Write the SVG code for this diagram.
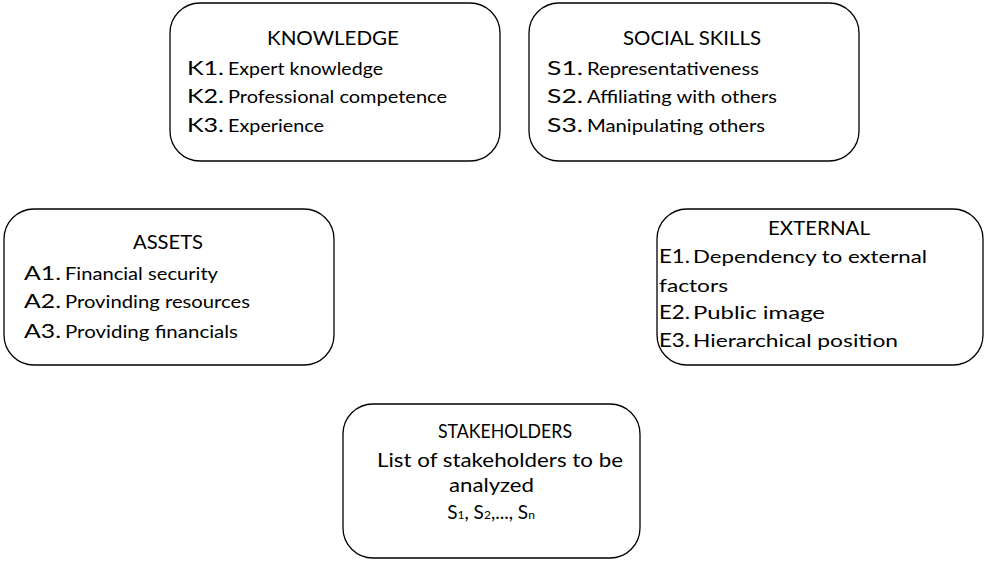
<svg xmlns="http://www.w3.org/2000/svg" width="985" height="562" viewBox="0 0 985 562">
<style>
.box{fill:#fff;stroke:#000;stroke-width:1.3}
text{font-family:Lato,"Liberation Sans",Arial,sans-serif;fill:#000}
.t{font-size:19px}
.l{font-size:19px}
.i{font-size:17.5px}
</style>
<rect width="985" height="562" fill="#fff"/>
<g id="connectors"></g>
<g id="knowledge">
<rect class="box" x="170" y="3" width="330" height="158" rx="30"/>
<text class="t" x="267" y="45" textLength="132" lengthAdjust="spacingAndGlyphs">KNOWLEDGE</text>
<text class="l" x="187" y="75" textLength="37" lengthAdjust="spacingAndGlyphs">K1.</text>
<text class="i" x="228" y="75" textLength="155" lengthAdjust="spacingAndGlyphs">Expert knowledge</text>
<text class="l" x="187" y="103" textLength="37" lengthAdjust="spacingAndGlyphs">K2.</text>
<text class="i" x="228" y="103" textLength="219" lengthAdjust="spacingAndGlyphs">Professional competence</text>
<text class="l" x="187" y="132" textLength="37" lengthAdjust="spacingAndGlyphs">K3.</text>
<text class="i" x="228" y="132" textLength="96" lengthAdjust="spacingAndGlyphs">Experience</text>
</g>
<g id="social">
<rect class="box" x="529" y="3" width="330" height="158" rx="30"/>
<text class="t" x="623" y="45" textLength="138" lengthAdjust="spacingAndGlyphs">SOCIAL SKILLS</text>
<text class="l" x="547" y="75" textLength="36" lengthAdjust="spacingAndGlyphs">S1.</text>
<text class="i" x="587" y="75" textLength="172" lengthAdjust="spacingAndGlyphs">Representativeness</text>
<text class="l" x="547" y="103" textLength="36" lengthAdjust="spacingAndGlyphs">S2.</text>
<text class="i" x="587" y="103" textLength="190" lengthAdjust="spacingAndGlyphs">Affiliating with others</text>
<text class="l" x="547" y="132" textLength="36" lengthAdjust="spacingAndGlyphs">S3.</text>
<text class="i" x="587" y="132" textLength="178" lengthAdjust="spacingAndGlyphs">Manipulating others</text>
</g>
<g id="assets">
<rect class="box" x="4" y="209" width="330" height="156" rx="30"/>
<text class="t" x="133" y="249" textLength="70" lengthAdjust="spacingAndGlyphs">ASSETS</text>
<text class="l" x="24" y="280" textLength="37" lengthAdjust="spacingAndGlyphs">A1.</text>
<text class="i" x="65" y="280" textLength="153" lengthAdjust="spacingAndGlyphs">Financial security</text>
<text class="l" x="24" y="308" textLength="37" lengthAdjust="spacingAndGlyphs">A2.</text>
<text class="i" x="65" y="308" textLength="185" lengthAdjust="spacingAndGlyphs">Provinding resources</text>
<text class="l" x="24" y="338" textLength="37" lengthAdjust="spacingAndGlyphs">A3.</text>
<text class="i" x="65" y="338" textLength="173" lengthAdjust="spacingAndGlyphs">Providing financials</text>
</g>
<g id="external">
<rect class="box" x="657" y="209" width="326" height="156" rx="30"/>
<text class="t" x="768" y="235" textLength="102" lengthAdjust="spacingAndGlyphs">EXTERNAL</text>
<text class="l" x="659" y="263" textLength="31" lengthAdjust="spacingAndGlyphs">E1.</text>
<text class="i" x="693" y="263" textLength="234" lengthAdjust="spacingAndGlyphs">Dependency to external</text>
<text class="i" x="659" y="292" textLength="69" lengthAdjust="spacingAndGlyphs">factors</text>
<text class="l" x="659" y="319" textLength="31" lengthAdjust="spacingAndGlyphs">E2.</text>
<text class="i" x="693" y="319" textLength="132" lengthAdjust="spacingAndGlyphs">Public image</text>
<text class="l" x="659" y="347" textLength="31" lengthAdjust="spacingAndGlyphs">E3.</text>
<text class="i" x="693" y="347" textLength="205" lengthAdjust="spacingAndGlyphs">Hierarchical position</text>
</g>
<g id="stakeholders">
<rect class="box" x="343" y="404" width="297" height="154" rx="30"/>
<text class="t" x="438" y="438" textLength="134" lengthAdjust="spacingAndGlyphs">STAKEHOLDERS</text>
<text class="t" x="377" y="467" textLength="246" lengthAdjust="spacingAndGlyphs">List of stakeholders to be</text>
<text class="t" x="449" y="492" textLength="85" lengthAdjust="spacingAndGlyphs">analyzed</text>
<text class="t" x="491" y="519" text-anchor="middle">S<tspan font-size="12">1</tspan>, S<tspan font-size="12">2</tspan>,..., S<tspan font-size="12">n</tspan></text>
</g>
</svg>
